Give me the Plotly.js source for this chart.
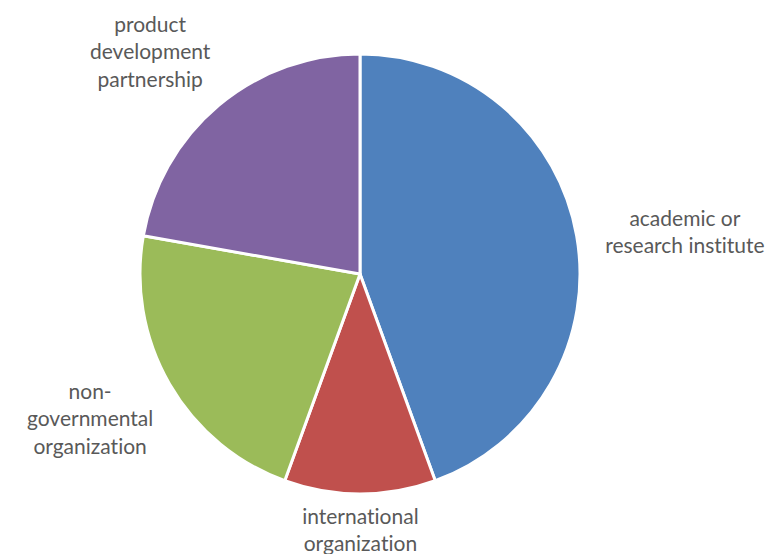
<!DOCTYPE html>
<html>
<head>
<meta charset="utf-8">
<script src="https://cdn.plot.ly/plotly-3.0.1.min.js"></script>
<style>html,body{margin:0;padding:0;background:#fff;}#chart{width:772px;height:554px;}
#chart text{font-variant-ligatures:none;font-feature-settings:"liga" 0;}</style>
</head>
<body>
<div id="chart"></div>
<script>
const labels = ["academic or research institute", "international organization", "non-governmental organization", "product development partnership"];
const wrappedLabels = ["academic or<br>research institute", "international<br>organization", "non-<br>governmental<br>organization", "product<br>development<br>partnership"];
const values = [4, 1, 2, 2];
const colors = ["#4F81BD", "#C0504D", "#9BBB59", "#8064A2"];
const labelPos = [[685, 231], [360, 529], [90, 418], [150, 51]];

const W = 772, H = 554;
const annotations = wrappedLabels.map((t, i) => ({
  text: t, x: labelPos[i][0] / W, y: 1 - labelPos[i][1] / H,
  xref: "paper", yref: "paper", showarrow: false, xanchor: "center", yanchor: "middle",
  align: "center", font: {family: "Lato, sans-serif", size: 21, color: "#595959"}
}));

Plotly.newPlot("chart", [{
  type: "pie", labels: labels, values: values, sort: false, direction: "clockwise", rotation: 0,
  marker: {colors: colors, line: {color: "#ffffff", width: 3}},
  textinfo: "none", hoverinfo: "label+value",
  domain: {x: [140 / W, 580 / W], y: [1 - 494 / H, 1 - 54 / H]}
}], {
  width: W, height: H, margin: {l: 0, r: 0, t: 0, b: 0},
  showlegend: false, paper_bgcolor: "#fff", annotations: annotations
}, {displayModeBar: false});
</script>
</body>
</html>
